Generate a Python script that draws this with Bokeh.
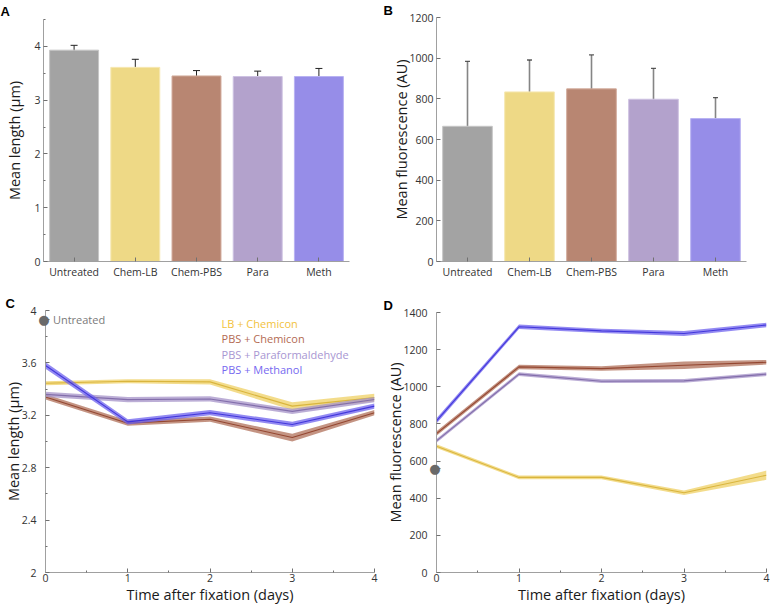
import numpy as np
from bokeh.plotting import figure
from bokeh.layouts import gridplot
from bokeh.models import (Range1d, FactorRange, FixedTicker, Label, Whisker,
                          TeeHead, ColumnDataSource, LinearAxis)
from bokeh.embed import file_html
from bokeh.resources import INLINE

# ---------------- data ----------------
categories = ["Untreated", "Chem-LB", "Chem-PBS", "Para", "Meth"]
length_mean = [3.93, 3.61, 3.45, 3.44, 3.44]
length_lower = [3.86, 3.45, 3.36, 3.37, 3.28]
length_upper = [4.02, 3.76, 3.55, 3.54, 3.59]
fluor_mean = [665, 834, 849, 798, 703]
fluor_lower = [345, 677, 681, 647, 598]
fluor_upper = [984, 991, 1016, 950, 806]

days = [0, 1, 2, 3, 4]
series_names = ["LB + Chemicon", "PBS + Chemicon", "PBS + Paraformaldehyde", "PBS + Methanol"]

length_lb_chem = [3.445, 3.46, 3.455, 3.27, 3.335]
length_pbs_chem = [3.34, 3.14, 3.17, 3.03, 3.22]
length_pbs_para = [3.36, 3.32, 3.325, 3.23, 3.32]
length_pbs_meth = [3.58, 3.15, 3.22, 3.13, 3.27]
length_sem_lb_chem = [0.015, 0.015, 0.02, 0.03, 0.03]
length_sem_pbs_chem = [0.02, 0.02, 0.02, 0.03, 0.02]
length_sem_pbs_para = [0.02, 0.02, 0.02, 0.02, 0.02]
length_sem_pbs_meth = [0.025, 0.02, 0.02, 0.02, 0.02]

fluor_lb_chem = [680, 512, 512, 429, 524]
fluor_pbs_chem = [748, 1107, 1098, 1116, 1132]
fluor_pbs_para = [709, 1068, 1030, 1032, 1068]
fluor_pbs_meth = [816, 1323, 1301, 1287, 1333]
fluor_sem_lb_chem = [10, 10, 10, 12, 25]
fluor_sem_pbs_chem = [12, 12, 12, 20, 12]
fluor_sem_pbs_para = [10, 10, 10, 10, 10]
fluor_sem_pbs_meth = [14, 12, 12, 14, 12]

untreated_length = [3.935]
untreated_fluor = [560]

length_yticks = [2, 2.4, 2.8, 3.2, 3.6, 4]
length_yminor = [2.2, 2.6, 3.0, 3.4, 3.8]
fluor_yticks = [0, 200, 400, 600, 800, 1000, 1200, 1400]

# ---------------- style ----------------
bar_fill = ["#a3a3a3", "#eed986", "#b88672", "#b3a2cc", "#968de8"]
bar_edge = ["#c6c6c6", "#f6e8b2", "#d2ab9b", "#cdc1e2", "#b8b2f2"]
band_colors = ["#efd064", "#b0705a", "#a593c8", "#6f63ee"]
line_colors = ["#d6b035", "#8e3e28", "#7c67a6", "#3a2ed8"]
text_colors = ["#f2c23c", "#b36a52", "#a896d2", "#7669f0"]

FONT = "Open Sans"
AX_COLOR = "#a0a0a0"
TICK_COLOR = "#707070"
W1, W2, H1, H2 = 380, 390, 291, 315
DOT_HALF = 4


def style_axis(ax):
    ax.axis_line_color = AX_COLOR
    ax.major_tick_in = 4
    ax.major_tick_out = 0
    ax.minor_tick_in = 2
    ax.minor_tick_out = 0
    ax.major_tick_line_color = TICK_COLOR
    ax.minor_tick_line_color = TICK_COLOR
    ax.major_label_text_font = FONT
    ax.major_label_text_font_size = "10.5px"
    ax.major_label_text_color = "#333333"
    ax.major_label_standoff = 3
    ax.axis_label_text_font = FONT
    ax.axis_label_text_font_size = "14.5px"
    ax.axis_label_text_font_style = "normal"
    ax.axis_label_text_color = "#1a1a1a"


def style(p):
    p.outline_line_color = None
    p.xgrid.visible = False
    p.ygrid.visible = False
    p.background_fill_color = "white"
    p.border_fill_color = "white"
    for ax in p.axis:
        style_axis(ax)


def panel_letter(p, txt, offset, valign):
    p.title.text = txt
    p.title.align = "left"
    p.title.offset = offset
    p.title.standoff = 0
    p.title.vertical_align = valign
    p.title.text_font = "Liberation Sans"
    p.title.text_font_style = "bold"
    p.title.text_font_size = "13px"
    p.title.text_line_height = 0.8
    p.title.text_color = "black"


def untreated_marker_axis(p, ticks, minor, marker_vals):
    """Left axis carrying the axis line, the ticks and the 'Untreated' marker
    drawn on the axis (so it is not clipped by the plot frame)."""
    main = p.left[0]
    ax = LinearAxis(ticker=FixedTicker(ticks=list(ticks) + list(marker_vals),
                                       minor_ticks=list(minor)))
    style_axis(ax)
    overrides = {t: "" for t in ticks}
    for v in marker_vals:
        overrides[v] = "●"
    ax.major_label_overrides = overrides
    ax.major_label_text_font = "DejaVu Sans"
    ax.major_label_text_font_size = "13px"
    ax.major_label_text_color = "#6a6a6a"
    ax.major_label_standoff = -DOT_HALF
    main.axis_line_color = None
    main.major_tick_line_color = None
    main.minor_tick_line_color = None
    main.major_label_standoff = 3 - DOT_HALF
    p.left = [ax, main]


common = dict(output_backend="svg", toolbar_location=None, frame_align=False)

# ---------------- panel A ----------------
pA = figure(width=W1, height=H1, x_range=FactorRange(*categories, range_padding=0),
            y_range=Range1d(0, 4.5), **common,
            min_border_left=43, min_border_right=31, min_border_top=19, min_border_bottom=30)
srcA = ColumnDataSource(dict(cat=categories, top=length_mean, lo=length_lower,
                             hi=length_upper, fill=bar_fill, edge=bar_edge))
pA.vbar(x="cat", top="top", width=0.8, fill_color="fill", line_color="edge",
        line_width=1, source=srcA)
pA.add_layout(Whisker(base="cat", lower="lo", upper="hi", source=srcA,
                      line_color="#222222", line_width=1,
                      upper_head=TeeHead(size=7, line_color="#222222", line_width=1),
                      lower_head=TeeHead(size=7, line_color="#222222", line_width=1)))
style(pA)
pA.yaxis.ticker = FixedTicker(ticks=[0, 1, 2, 3, 4], minor_ticks=[0.5, 1.5, 2.5, 3.5, 4.5])
pA.yaxis.axis_label = "Mean length (µm)"
pA.yaxis.axis_label_standoff = 7
panel_letter(pA, "A", -43, "middle")

# ---------------- panel B ----------------
pB = figure(width=W2, height=H1, x_range=FactorRange(*categories, range_padding=0),
            y_range=Range1d(0, 1200), **common,
            min_border_left=56, min_border_right=24, min_border_top=17, min_border_bottom=30)
srcB = ColumnDataSource(dict(cat=categories, top=fluor_mean, lo=fluor_lower,
                             hi=fluor_upper, fill=bar_fill, edge=bar_edge))
pB.vbar(x="cat", top="top", width=0.8, fill_color="fill", line_color="edge",
        line_width=1, source=srcB)
pB.add_layout(Whisker(base="cat", lower="lo", upper="hi", source=srcB,
                      line_color="#333333", line_alpha=0.6, line_width=1.6,
                      upper_head=TeeHead(size=5, line_color="#333333", line_alpha=0.8, line_width=1.4),
                      lower_head=TeeHead(size=5, line_color="#333333", line_alpha=0.8, line_width=1.4)))
style(pB)
pB.yaxis.ticker = FixedTicker(ticks=[0, 200, 400, 600, 800, 1000, 1200], minor_ticks=[])
pB.yaxis.axis_label = "Mean fluorescence (AU)"
pB.yaxis.axis_label_standoff = -5
panel_letter(pB, "B", -53, "bottom")

# ---------------- panel C ----------------
pC = figure(width=W1, height=H2, x_range=Range1d(0, 4), y_range=Range1d(2, 4), **common,
            min_border_left=43, min_border_right=6, min_border_top=19, min_border_bottom=32)
style(pC)
len_series = [length_lb_chem, length_pbs_chem, length_pbs_para, length_pbs_meth]
len_sems = [length_sem_lb_chem, length_sem_pbs_chem, length_sem_pbs_para, length_sem_pbs_meth]
for vals, sem, bc, lc in zip(len_series, len_sems, band_colors, line_colors):
    v = np.array(vals); s = np.array(sem)
    pC.varea(x=days, y1=v - s, y2=v + s, fill_color=bc, fill_alpha=0.75)
    pC.line(days, vals, line_color=lc, line_width=1.1, line_alpha=0.9)
pC.xaxis.ticker = FixedTicker(ticks=days, minor_ticks=[0.5, 1.5, 2.5, 3.5])
pC.yaxis.ticker = FixedTicker(ticks=length_yticks, minor_ticks=length_yminor)
pC.yaxis.major_label_overrides = {2: "2", 4: "4"}
pC.xaxis.axis_label = "Time after fixation (days)"
pC.yaxis.axis_label = "Mean length (µm)"
pC.xaxis.major_label_standoff = 1
pC.xaxis.axis_label_standoff = 0
pC.yaxis.axis_label_standoff = -4
untreated_marker_axis(pC, length_yticks, length_yminor, untreated_length)
pC.add_layout(Label(x=0.09, y=untreated_length[0], text="Untreated", text_font=FONT,
                    text_font_size="11px", text_color="#7a7a7a",
                    text_align="left", text_baseline="middle"))
for i, (name, tc) in enumerate(zip(series_names, text_colors)):
    pC.add_layout(Label(x=2.14, y=3.90 - 0.117 * i, text=name, text_font=FONT,
                        text_font_size="11px", text_color=tc,
                        text_align="left", text_baseline="middle"))
panel_letter(pC, "C", -40, "bottom")

# ---------------- panel D ----------------
pD = figure(width=W2, height=H2, x_range=Range1d(0, 4), y_range=Range1d(0, 1400), **common,
            min_border_left=56, min_border_right=4, min_border_top=21, min_border_bottom=34)
style(pD)
fl_series = [fluor_lb_chem, fluor_pbs_chem, fluor_pbs_para, fluor_pbs_meth]
fl_sems = [fluor_sem_lb_chem, fluor_sem_pbs_chem, fluor_sem_pbs_para, fluor_sem_pbs_meth]
for vals, sem, bc, lc in zip(fl_series, fl_sems, band_colors, line_colors):
    v = np.array(vals); s = np.array(sem)
    pD.varea(x=days, y1=v - s, y2=v + s, fill_color=bc, fill_alpha=0.75)
    pD.line(days, vals, line_color=lc, line_width=1.1, line_alpha=0.9)
pD.xaxis.ticker = FixedTicker(ticks=days, minor_ticks=[0.5, 1.5, 2.5, 3.5])
pD.yaxis.ticker = FixedTicker(ticks=fluor_yticks, minor_ticks=[])
pD.xaxis.axis_label = "Time after fixation (days)"
pD.yaxis.axis_label = "Mean fluorescence (AU)"
pD.xaxis.major_label_standoff = 1
pD.xaxis.axis_label_standoff = 0
pD.yaxis.axis_label_standoff = -5
untreated_marker_axis(pD, fluor_yticks, [], untreated_fluor)
panel_letter(pD, "D", -53, "bottom")

grid = gridplot([[pA, pB], [pC, pD]], toolbar_location=None)
open("out.html", "w").write(file_html(grid, INLINE))
